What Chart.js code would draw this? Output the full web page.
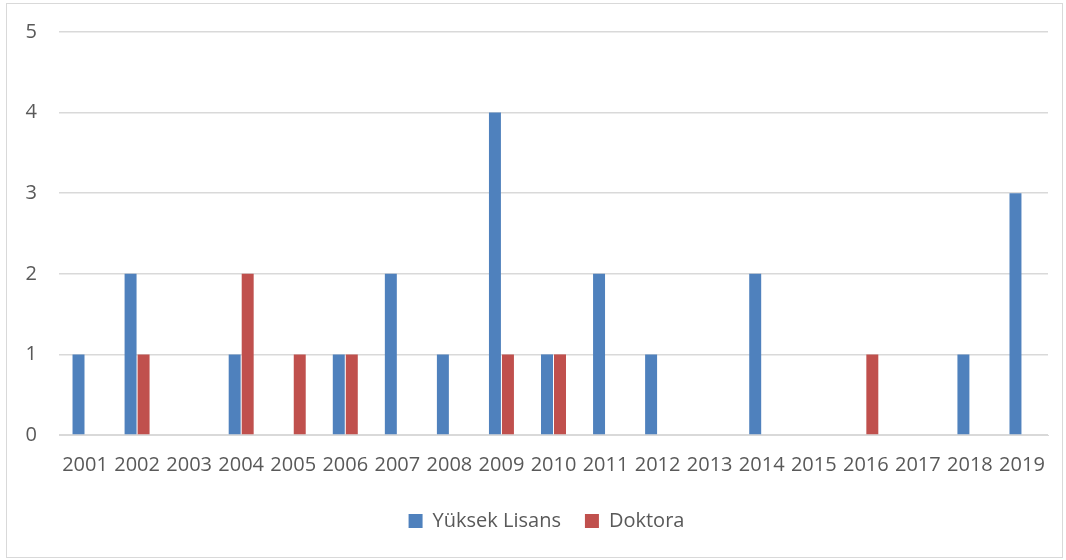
<!DOCTYPE html>
<html>
<head>
<meta charset="utf-8">
<script src="https://cdn.jsdelivr.net/npm/chart.js"></script>
<style>
  body { margin: 0; background: #fff; }
  #wrap { position: absolute; left: 6px; top: 3px; width: 1055px; height: 553px; border: 1px solid #d9d9d9; }
</style>
</head>
<body>
<div id="wrap"><canvas id="chart"></canvas></div>
<script>
const years = ['2001', '2002', '2003', '2004', '2005', '2006', '2007', '2008', '2009', '2010',
  '2011', '2012', '2013', '2014', '2015', '2016', '2017', '2018', '2019'];
const yuksekLisans = [1, 2, 0, 1, 0, 1, 2, 1, 4, 1, 2, 1, 0, 2, 0, 0, 0, 1, 3];
const doktora = [0, 1, 0, 2, 1, 1, 0, 0, 1, 1, 0, 0, 0, 0, 0, 1, 0, 0, 0];

const ctx = document.getElementById('chart').getContext('2d');
const textFont = { family: 'Open Sans', size: 20 };

// legend sits a bit right of the canvas centre in the original
const legendShift = {
  id: 'legendShift',
  afterLayout(chart) {
    chart.legend.left += 19;
    chart.legend.right += 19;
  }
};

const chart = new Chart(ctx, {
  type: 'bar',
  data: {
    labels: years,
    datasets: [{
      label: 'Yüksek Lisans',
      data: yuksekLisans,
      backgroundColor: '#4f81bd',
      categoryPercentage: 0.5,
      barPercentage: 0.92
    }, {
      label: 'Doktora',
      data: doktora,
      backgroundColor: '#c0504d',
      categoryPercentage: 0.5,
      barPercentage: 0.92
    }]
  },
  options: {
    responsive: true,
    maintainAspectRatio: false,
    animation: false,
    layout: { padding: { left: 0, right: 14, top: 0, bottom: 16 } },
    plugins: {
      legend: {
        position: 'bottom',
        labels: {
          color: '#595959',
          font: textFont,
          boxWidth: 14,
          boxHeight: 14,
          padding: 24
        }
      },
      tooltip: { enabled: false }
    },
    scales: {
      x: {
        grid: { display: false },
        border: { color: '#d9d9d9' },
        ticks: {
          color: '#595959',
          font: textFont,
          maxRotation: 0,
          autoSkip: false,
          padding: 10
        }
      },
      y: {
        min: 0,
        max: 5,
        afterFit: (scale) => {
          scale.width = 52;
          scale.paddingTop = 28;
          scale.paddingBottom = 12;
        },
        grid: { color: '#d9d9d9', lineWidth: 1.5, drawTicks: false },
        border: { display: false },
        ticks: {
          stepSize: 1,
          color: '#595959',
          font: textFont,
          padding: 22
        }
      }
    }
  },
  plugins: [legendShift]
});
</script>
</body>
</html>
